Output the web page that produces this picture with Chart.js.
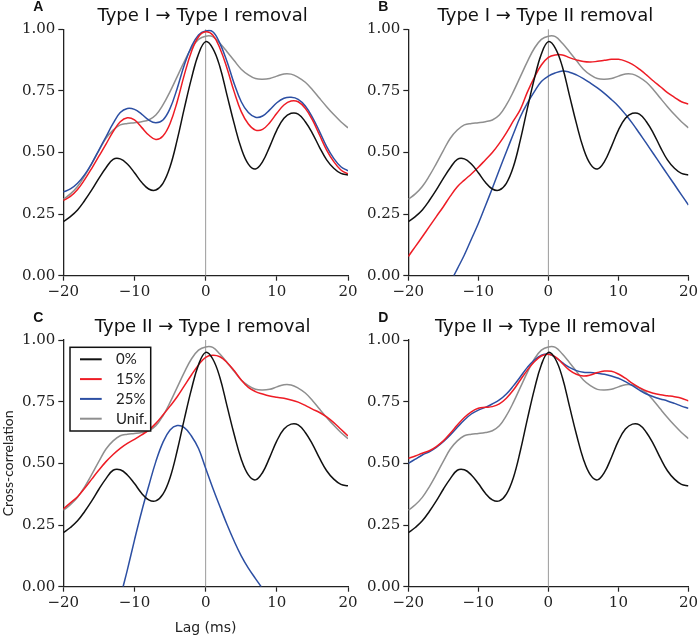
<!DOCTYPE html>
<html>
<head>
<meta charset="utf-8">
<script src="https://cdn.jsdelivr.net/npm/chart.js@4.4.1/dist/chart.umd.min.js"></script>
<style>
  html, body { margin: 0; padding: 0; background: #fff; }
  #wrap { position: relative; width: 700px; height: 638px; overflow: hidden; }
  canvas { position: absolute; }
</style>
</head>
<body>
<div id="wrap">
  <canvas id="cA" width="365" height="306" style="left:0;top:0"></canvas>
  <canvas id="cB" width="360" height="306" style="left:340px;top:0"></canvas>
  <canvas id="cC" width="365" height="332" style="left:0;top:306px"></canvas>
  <canvas id="cD" width="360" height="332" style="left:340px;top:306px"></canvas>
</div>
<script>
// ===== DATA (cross-correlation vs lag, ms) =====
const LAGS = [-20,-19,-18,-17,-16,-15,-14,-13,-12,-11,-10,-9,-8,-7,-6,-5,-4,-3,-2,-1,0,
              1,2,3,4,5,6,7,8,9,10,11,12,13,14,15,16,17,18,19,20];
const SERIES_LABELS = ['0%', '15%', '25%', 'Unif.'];
const X_TICKS = [-20, -10, 0, 10, 20];
const Y_TICKS = [0, 0.25, 0.5, 0.75, 1.0];

// same in every panel
const ZERO = [0.219,0.24,0.267,0.305,0.348,0.395,0.438,0.472,0.474,0.453,0.418,0.379,0.352,0.348,0.375,0.442,0.551,0.679,0.80,0.90,0.95,
              0.923,0.848,0.733,0.618,0.517,0.453,0.433,0.463,0.524,0.591,0.639,0.659,0.656,0.625,0.578,0.521,0.47,0.436,0.415,0.409];
const UNIF = [0.31,0.332,0.362,0.405,0.455,0.508,0.558,0.591,0.612,0.618,0.621,0.625,0.632,0.652,0.693,0.747,0.808,0.869,0.923,0.959,0.972,
              0.97,0.943,0.909,0.873,0.838,0.815,0.80,0.797,0.80,0.81,0.819,0.818,0.805,0.785,0.755,0.72,0.686,0.654,0.625,0.60];

// A: Type I -> Type I removal
const A_15 = [0.305,0.322,0.35,0.39,0.436,0.485,0.534,0.585,0.625,0.641,0.632,0.602,0.571,0.553,0.567,0.618,0.706,0.815,0.909,0.97,0.99,
              0.977,0.923,0.842,0.747,0.666,0.616,0.591,0.594,0.621,0.659,0.693,0.709,0.706,0.679,0.632,0.571,0.51,0.463,0.429,0.413];
const A_25 = [0.34,0.352,0.375,0.41,0.456,0.51,0.564,0.618,0.662,0.679,0.675,0.656,0.632,0.621,0.632,0.679,0.76,0.855,0.93,0.977,0.993,
              0.99,0.943,0.869,0.78,0.706,0.662,0.643,0.648,0.673,0.702,0.72,0.724,0.716,0.689,0.643,0.585,0.524,0.476,0.442,0.426];

// B: Type I -> Type II removal
const B_15 = [0.078,0.118,0.158,0.199,0.24,0.28,0.323,0.361,0.388,0.413,0.44,0.47,0.50,0.537,0.58,0.628,0.675,0.745,0.805,0.855,0.886,
              0.896,0.896,0.885,0.876,0.869,0.867,0.87,0.874,0.878,0.878,0.871,0.858,0.838,0.815,0.79,0.767,0.743,0.724,0.706,0.697];
const B_25_LAGS = [-13.5,-13,-12,-11,-10,-9,-8,-7,-6,-5,-4,-3,-2,-1,0,
                   1,2,3,4,5,6,7,8,9,10,11,12,13,14,15,16,17,18,19,20];
const B_25 = [0,0.028,0.084,0.148,0.212,0.283,0.355,0.43,0.503,0.575,0.645,0.70,0.747,0.788,0.81,
              0.823,0.831,0.826,0.815,0.80,0.782,0.762,0.74,0.715,0.688,0.655,0.618,0.578,0.537,0.495,0.453,0.411,0.37,0.328,0.287];

// C: Type II -> Type I removal
const C_15 = [0.315,0.34,0.365,0.399,0.436,0.473,0.507,0.536,0.561,0.581,0.597,0.615,0.635,0.662,0.696,0.732,0.77,0.814,0.858,0.899,0.93,
              0.938,0.932,0.909,0.876,0.838,0.808,0.791,0.781,0.773,0.768,0.764,0.757,0.748,0.735,0.72,0.706,0.688,0.665,0.638,0.611];
const C_25_LAGS = [-11.6,-11,-10,-9,-8,-7,-6,-5,-4,-3,-2,-1,0,1,2,3,4,5,6,7,7.8];
const C_25 = [0,0.068,0.189,0.304,0.408,0.507,0.585,0.635,0.653,0.645,0.611,0.56,0.48,0.40,0.325,0.252,0.185,0.125,0.075,0.033,0];

// D: Type II -> Type II removal
const D_15 = [0.52,0.53,0.541,0.551,0.568,0.591,0.622,0.655,0.686,0.709,0.723,0.727,0.73,0.741,0.764,0.797,0.838,0.878,0.912,0.935,0.942,
              0.932,0.905,0.878,0.861,0.854,0.858,0.868,0.874,0.873,0.862,0.845,0.824,0.807,0.793,0.784,0.778,0.774,0.77,0.764,0.753];
const D_25 = [0.50,0.517,0.534,0.547,0.565,0.588,0.615,0.646,0.676,0.70,0.716,0.727,0.741,0.757,0.781,0.814,0.851,0.889,0.919,0.938,0.943,
              0.93,0.908,0.889,0.876,0.869,0.868,0.865,0.861,0.854,0.845,0.831,0.815,0.797,0.781,0.77,0.761,0.753,0.743,0.732,0.723];

const COLORS = ['#111111', '#ee1c25', '#2c4fa3', '#8f8f8f'];
const INK = '#222222';
const SANS = '"DejaVu Sans", sans-serif';

Chart.defaults.font.family = 'Lato, "DejaVu Sans", sans-serif';
Chart.defaults.color = INK;

function series(xs, ys, i) {
  return {
    label: SERIES_LABELS[i],
    data: xs.map((x, k) => ({ x, y: ys[k] })),
    borderColor: COLORS[i],
    borderWidth: 1.5,
    pointRadius: 0,
    tension: 0.4,
    fill: false,
  };
}

// zero-lag line, panel title, panel letter and (optionally) the legend box
const panelDecor = {
  id: 'panelDecor',
  beforeDatasetsDraw(chart) {
    const { ctx, chartArea: a, scales: { x } } = chart;
    const px = x.getPixelForValue(0);
    ctx.save();
    ctx.strokeStyle = '#9a9a9a';
    ctx.lineWidth = 1;
    ctx.beginPath();
    ctx.moveTo(px, a.top);
    ctx.lineTo(px, a.bottom);
    ctx.stroke();
    ctx.restore();
  },
  afterDraw(chart, args, opts) {
    const { ctx, chartArea: a } = chart;
    ctx.save();
    ctx.fillStyle = '#111';
    ctx.textAlign = 'center';
    ctx.textBaseline = 'alphabetic';
    ctx.font = '18px ' + SANS;
    ctx.fillText(opts.title, (a.left + a.right) / 2 - 3, a.top - 8);
    ctx.font = 'bold 14px "Liberation Sans", Arial, sans-serif';
    ctx.textBaseline = 'middle';
    ctx.fillText(opts.letter, a.left - 25, a.top - 22);

    if (opts.legend) {
      const bx = a.left + 6.7, by = a.top + 7.3;
      ctx.fillStyle = '#fff';
      ctx.fillRect(bx, by, 80.7, 83.7);
      ctx.strokeStyle = '#111';
      ctx.lineWidth = 1.5;
      ctx.strokeRect(bx, by, 80.7, 83.7);
      ctx.font = '15px Lato, "DejaVu Sans", sans-serif';
      ctx.textAlign = 'left';
      chart.data.datasets.forEach((ds, i) => {
        const y = by + 12 + i * 19.8;
        ctx.strokeStyle = ds.borderColor;
        ctx.lineWidth = 2;
        ctx.beginPath();
        ctx.moveTo(bx + 10, y);
        ctx.lineTo(bx + 31.7, y);
        ctx.stroke();
        ctx.fillStyle = INK;
        ctx.fillText(ds.label, bx + 46, y);
      });
    }
    ctx.restore();
  },
};

function makePanel(id, p) {
  new Chart(document.getElementById(id), {
    type: 'line',
    data: { datasets: p.datasets },
    options: {
      responsive: false,
      animation: false,
      events: [],
      layout: { autoPadding: false, padding: p.padding },
      plugins: {
        legend: { display: false },
        tooltip: { enabled: false },
        panelDecor: { title: p.title, letter: p.letter, legend: p.legend },
      },
      scales: {
        x: {
          type: 'linear', min: -20, max: 20,
          afterFit: s => { s.height = p.xh; },
          afterBuildTicks: s => { s.ticks = X_TICKS.map(v => ({ value: v })); },
          ticks: {
            color: INK, padding: 2, maxRotation: 0, autoSkip: false,
            font: { family: '"DejaVu Serif", serif', size: 15 },
            callback: v => v < 0 ? '\u2212' + Math.abs(v) : String(v),
          },
          grid: { drawOnChartArea: false, tickLength: 5, color: INK, tickWidth: 1.2 },
          border: { color: INK, width: 1.3 },
          title: { display: !!p.xTitle, text: p.xTitle || '', color: INK,
                   font: { family: SANS, size: 14 }, padding: { top: 0, bottom: 1 } },
        },
        y: {
          type: 'linear', min: 0, max: 1,
          afterFit: s => { s.width = p.yw; },
          afterBuildTicks: s => { s.ticks = Y_TICKS.map(v => ({ value: v })); },
          ticks: {
            color: INK, padding: 3,
            font: { family: '"DejaVu Serif", serif', size: 15 },
            callback: v => v.toFixed(2),
          },
          grid: { drawOnChartArea: false, tickLength: 5, color: INK, tickWidth: 1.2 },
          border: { color: INK, width: 1.3 },
          title: { display: !!p.yTitle, text: p.yTitle || '', color: INK,
                   font: { size: 14 }, padding: { top: 0, bottom: 0 } },
        },
      },
    },
    plugins: [panelDecor],
  });
}

makePanel('cA', {
  title: 'Type I \u2192 Type I removal', letter: 'A', legend: false,
  padding: { left: 0, right: 17, top: 29.3, bottom: 0 }, yw: 63.3, xh: 30.3,
  datasets: [series(LAGS, ZERO, 0), series(LAGS, A_15, 1), series(LAGS, A_25, 2), series(LAGS, UNIF, 3)],
});
makePanel('cB', {
  title: 'Type I \u2192 Type II removal', letter: 'B', legend: false,
  padding: { left: 0, right: 7.7, top: 29.3, bottom: 0 }, yw: 68.3, xh: 30.3,
  datasets: [series(LAGS, ZERO, 0), series(LAGS, B_15, 1), series(B_25_LAGS, B_25, 2), series(LAGS, UNIF, 3)],
});
makePanel('cC', {
  title: 'Type II \u2192 Type I removal', letter: 'C', legend: true,
  xTitle: 'Lag (ms)', yTitle: 'Cross-correlation',
  padding: { left: 0, right: 17, top: 34, bottom: 0 }, yw: 63.3, xh: 51.3,
  datasets: [series(LAGS, ZERO, 0), series(LAGS, C_15, 1), series(C_25_LAGS, C_25, 2), series(LAGS, UNIF, 3)],
});
makePanel('cD', {
  title: 'Type II \u2192 Type II removal', letter: 'D', legend: false,
  padding: { left: 0, right: 7.7, top: 34, bottom: 0 }, yw: 68.3, xh: 51.3,
  datasets: [series(LAGS, ZERO, 0), series(LAGS, D_15, 1), series(LAGS, D_25, 2), series(LAGS, UNIF, 3)],
});
</script>
</body>
</html>
